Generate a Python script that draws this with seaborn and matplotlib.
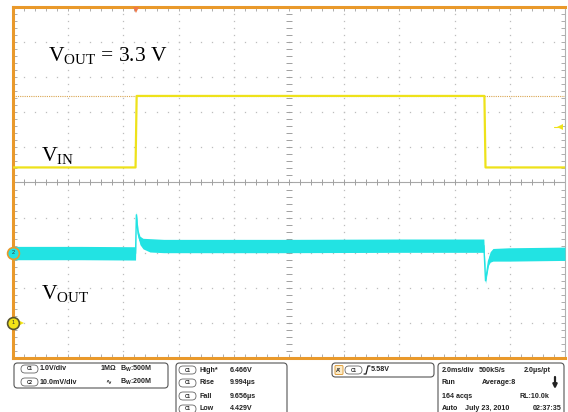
import matplotlib
matplotlib.use("Agg")
import matplotlib.pyplot as plt
import numpy as np
import pandas as pd
import seaborn as sns
from matplotlib.patches import FancyBboxPatch

# ---------------- data ----------------
# Channel 1 (VIN), time in ms relative to trigger, volts
vin_t = [-4.46, -0.02, 0.02, 12.62, 12.66, 15.54]
vin_v = [4.429, 4.429, 6.466, 6.466, 4.429, 4.429]

# Channel 2 (VOUT ripple), time in ms, centre value in mV and noise half-width in mV
vout_t = [-4.46, -2.0, -0.02, 0.01, 0.07, 0.14, 0.25, 0.5, 1.0, 5.5, 9.5, 12.6,
          12.66, 12.72, 12.77, 12.83, 12.93, 13.5, 15.54]
vout_mv = [-0.1, -0.1, -0.2, 10.8, 5.5, 3.5, 2.6, 2.1, 1.9, 1.9, 2.0, 2.0,
           -8.0, -4.9, -2.4, -1.2, -0.6, -0.5, -0.3]
vout_noise = [1.9, 1.9, 1.9, 0.9, 1.0, 1.2, 1.5, 1.9, 1.9, 1.9, 1.9, 1.9,
              0.8, 0.9, 1.2, 1.5, 1.8, 1.9, 1.9]

# scope settings
ch1_label, ch1_scale = "1.0V/div", 1.0        # V/div
ch2_label, ch2_scale = "10.0mV/div", 10.0     # mV/div
ch1_offset_div, ch2_offset_div = -4.0, -2.0
h_scale_ms, t_center = 2.0, 5.54
trigger_level_v = 5.58

meas_names = ["High*", "Rise", "Fall", "Low"]
meas_values = ["6.466V", "9.994\u00b5s", "9.656\u00b5s", "4.429V"]
high_meas_v = 6.466

# ---------------- styling ----------------
sns.set_style("white")
plt.rcParams["mathtext.fontset"] = "custom"
plt.rcParams["mathtext.rm"] = "Liberation Serif"
plt.rcParams["mathtext.it"] = "Liberation Serif:italic"
plt.rcParams["mathtext.bf"] = "Liberation Sans:bold"
plt.rcParams["font.family"] = ["Liberation Sans", "DejaVu Sans"]

W, H = 568, 412
fig = plt.figure(figsize=(W / 100, H / 100), dpi=100)
fig.patch.set_facecolor("white")

ax = fig.add_axes([13 / W, 1 - 358 / H, 552 / W, 351 / H])
x0, x1 = t_center - 5 * h_scale_ms, t_center + 5 * h_scale_ms
ax.set_xlim(x0, x1)
ax.set_ylim(-5, 5)
ax.set_facecolor("white")

ORANGE = "#E9992B"
YELLOW = "#EEE21A"
CYAN = "#22E3E3"
GRID = "#BDBDBD"

# dotted graticule
minor_x = np.arange(x0, x1 + 1e-6, h_scale_ms / 5)
minor_y = np.arange(-5, 5 + 1e-6, 0.2)
for k in range(-4, 5):
    if k == 0:
        continue
    xs = t_center + k * h_scale_ms
    ax.plot([xs] * len(minor_y), minor_y, ls="none", marker="s", ms=0.9,
            color=GRID, mew=0, zorder=1)
    ax.plot(minor_x, [k] * len(minor_x), ls="none", marker="s", ms=0.9,
            color=GRID, mew=0, zorder=1)
# centre cross-hair
ax.axhline(0, color="#A8A8A8", lw=0.8, zorder=1)
ax.plot(minor_x, [0] * len(minor_x), ls="none", marker="|", ms=4, color="#A0A0A0", mew=0.7, zorder=1)
ax.plot([t_center] * len(minor_y), minor_y, ls="none", marker="_", ms=4, color="#A0A0A0", mew=0.7, zorder=1)

# edge ticks
ax.set_xticks(minor_x[1:-1])
ax.set_yticks(minor_y[1:-1])
ax.tick_params(direction="in", length=3, width=0.6, color="#A0A0A0",
               top=True, right=True, bottom=True, left=True,
               labelbottom=False, labelleft=False)
for s in ["top", "left", "bottom"]:
    ax.spines[s].set_color(ORANGE)
    ax.spines[s].set_linewidth(2.2)
ax.spines["right"].set_color("#B0B0B0")
ax.spines["right"].set_linewidth(0.8)

# high measurement dotted line
ax.axhline(high_meas_v / ch1_scale + ch1_offset_div, color="#D9A550", lw=0.8,
           ls=(0, (1, 1)), zorder=2)

# traces (converted into screen divisions)
df_in = pd.DataFrame({"t": vin_t, "div": np.array(vin_v) / ch1_scale + ch1_offset_div})
vt = np.array(vout_t)
vc = np.array(vout_mv) / ch2_scale + ch2_offset_div
vn = np.array(vout_noise) / ch2_scale
df_out = pd.DataFrame({"t": vt, "div": vc})

ax.fill_between(vt, vc - vn, vc + vn, color=CYAN, lw=0, zorder=3)
sns.lineplot(data=df_out, x="t", y="div", ax=ax, color=CYAN, lw=1.0, zorder=4,
             estimator=None, sort=False)
sns.lineplot(data=df_in, x="t", y="div", ax=ax, color=YELLOW, lw=1.6, zorder=5,
             estimator=None, sort=False)
ax.set_xlabel("")
ax.set_ylabel("")

# markers: trigger position, trigger level, channel grounds
ax.plot([0], [4.91], marker="v", ms=5, color="#F07848", mew=0, clip_on=False, zorder=6)
ax.plot([x1 - 0.18], [trigger_level_v / ch1_scale + ch1_offset_div], marker="<", ms=4,
        color=YELLOW, mew=0, clip_on=False, zorder=6)
ax.plot([x1 - 0.4, x1 - 0.1], [trigger_level_v / ch1_scale + ch1_offset_div] * 2,
        color=YELLOW, lw=0.8, clip_on=False, zorder=6)
for off, face, edge, lab in [(ch2_offset_div, CYAN, ORANGE, "2"),
                             (ch1_offset_div, "#F3E416", "#5A5530", "1")]:
    ax.plot([x0 + 0.3], [off], marker=">", ms=5, color=face, mew=0, clip_on=False, zorder=6)
    ax.plot([x0], [off], marker="o", ms=8.5, mfc=face, mec=edge, mew=1.2,
            clip_on=False, zorder=7)
    ax.text(x0, off, lab, fontsize=4, ha="center", va="center", color="#303030",
            zorder=8, clip_on=False)

# on-screen labels
serif = dict(family="Liberation Serif", fontsize=15.5, color="black", va="center", ha="left")
ax.text(x0 + 35 / 27.6, 5 - (55 - 7) / 35.1, r"V$_{\mathrm{OUT}}$ = 3.3 V", **serif)
ax.text(x0 + 28 / 27.6, 5 - (156 - 7) / 35.1, r"V$_{\mathrm{IN}}$", **serif)
ax.text(x0 + 28 / 27.6, 5 - (294 - 7) / 35.1, r"V$_{\mathrm{OUT}}$", **serif)

# ---------------- bottom information panel ----------------
ov = fig.add_axes([0, 0, 1, 1], zorder=10)
ov.set_xlim(0, W)
ov.set_ylim(H, 0)
ov.axis("off")
ov.patch.set_alpha(0)

TXT = "#222222"


def rbox(xa, ya, xb, yb, r=3.5, ec="#555555", lw=0.8, fc="none"):
    ov.add_patch(FancyBboxPatch((xa, ya), xb - xa, yb - ya,
                                boxstyle=f"round,pad=0,rounding_size={r}",
                                ec=ec, fc=fc, lw=lw, clip_on=False))


def t(x, y, s, size=5.1, ha="left"):
    ov.text(x, y, s, fontsize=size, fontweight="bold", color=TXT, ha=ha,
            va="center", family=["Liberation Sans", "DejaVu Sans"])


def pill(xa, y, lab):
    rbox(xa, y - 4, xa + 17, y + 4, r=4, ec="#666666", lw=0.6)
    t(xa + 8.5, y, lab, size=3.3, ha="center")


# box 1 : channel settings
rbox(14, 363, 168, 388)
pill(21, 369, "C1"); t(40, 369, ch1_label)
pill(21, 382, "C2"); t(40, 382, ch2_label)
t(101, 369, "1M\u03a9")
t(120, 369, r"$\mathbf{B_W}$:500M")
t(105, 382, "\u223f")
t(120, 382, r"$\mathbf{B_W}$:200M")

# box 2 : measurements
rbox(176, 363, 287, 420)
for i, (n, v) in enumerate(zip(meas_names, meas_values)):
    y = [370, 383, 396, 409][i]
    pill(179, y, "C1")
    t(199, y, n)
    t(230, y, v)

# box 3 : trigger
rbox(332, 363, 434, 377)
rbox(335, 365.5, 343, 374.5, r=1, ec="#E0A040", lw=0.7, fc="#FBEBC8")
t(339, 370, "A'", size=4, ha="center")
pill(345, 370, "C1")
ov.plot([364, 366, 368, 370], [374, 374, 366, 366], color=TXT, lw=0.9)
t(371, 369.5, f"{trigger_level_v:.2f}V")

# box 4 : acquisition
rbox(438, 363, 564, 420)
t(442, 370, f"{h_scale_ms:.1f}ms/div"); t(479, 370, "500kS/s"); t(524, 370, "2.0\u00b5s/pt")
t(442, 383, "Run"); t(482, 383, "Average:8")
ov.annotate("", xy=(555, 389), xytext=(555, 377),
            arrowprops=dict(arrowstyle="-|>", lw=1.6, color=TXT, mutation_scale=6,
                            shrinkA=0, shrinkB=0))
t(442, 396, "164 acqs"); t(520, 396, "RL:10.0k")
t(442, 409, "Auto"); t(465, 409, "July 23, 2010"); t(533, 409, "02:37:35")

fig.savefig("out.png", dpi=100, facecolor="white")
